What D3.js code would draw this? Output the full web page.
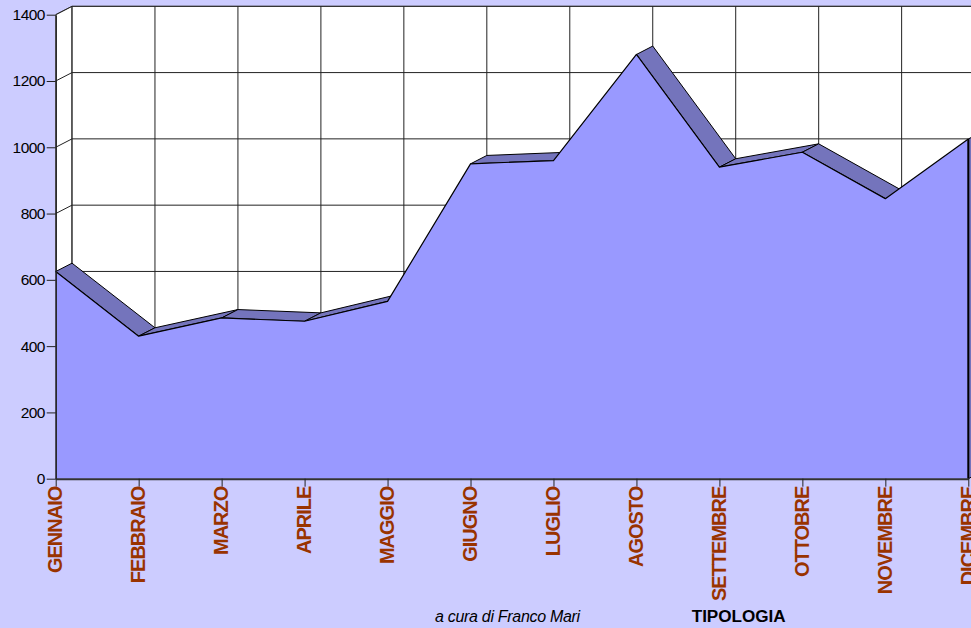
<!DOCTYPE html>
<html>
<head>
<meta charset="utf-8">
<script src="https://cdn.jsdelivr.net/npm/d3@7"></script>
<style>
  html, body { margin: 0; padding: 0; background: #ccccff; }
  svg { display: block; }
</style>
</head>
<body>
<svg id="chart" width="971" height="628"></svg>
<script>
// Monthly totals (area series)
const months = ["GENNAIO", "FEBBRAIO", "MARZO", "APRILE", "MAGGIO", "GIUGNO",
                "LUGLIO", "AGOSTO", "SETTEMBRE", "OTTOBRE", "NOVEMBRE", "DICEMBRE"];
const values = [625, 430, 485, 475, 535, 950, 960, 1280, 940, 985, 845, 1025];
const yTicks = [0, 200, 400, 600, 800, 1000, 1200, 1400];

const W = 971, H = 628;
const svg = d3.select("#chart");

const x = d3.scalePoint().domain(months).range([55.7, 968.3]);
const y = d3.scaleLinear().domain([0, 1400]).range([478.7, 14.7]);

// oblique depth of the 3D box
const DX = 16.3, DY = -8.4;
const x0 = x(months[0]), x1 = x(months[months.length - 1]);
const yTop = y(1400), yBot = y(0);

const wall = svg.append("g");

// left wall
wall.append("polygon")
  .attr("points", [[x0, yTop], [x0 + DX, yTop + DY], [x0 + DX, yBot + DY], [x0, yBot]].join(" "))
  .attr("fill", "#ffffff").attr("stroke", "#666").attr("stroke-width", 1);

// back wall
wall.append("rect")
  .attr("x", x0 + DX).attr("y", yTop + DY)
  .attr("width", x1 - x0).attr("height", yBot - yTop)
  .attr("fill", "#ffffff").attr("stroke", "#666").attr("stroke-width", 1);

// horizontal gridlines on back wall + slanted ones on left wall
const grid = svg.append("g").attr("stroke", "#222").attr("stroke-width", 1).attr("fill", "none");
yTicks.forEach(v => {
  grid.append("line")
    .attr("x1", x0 + DX).attr("x2", x1 + DX)
    .attr("y1", y(v) + DY).attr("y2", y(v) + DY);
  grid.append("line")
    .attr("x1", x0).attr("x2", x0 + DX)
    .attr("y1", y(v)).attr("y2", y(v) + DY);
});
// vertical gridlines on back wall
months.forEach(m => {
  grid.append("line")
    .attr("x1", x(m) + DX).attr("x2", x(m) + DX)
    .attr("y1", yTop + DY).attr("y2", yBot + DY);
});

// top faces of the extruded area
const pts = months.map((m, i) => [x(m), y(values[i])]);
const faces = svg.append("g");
for (let i = 0; i < pts.length - 1; i++) {
  const [ax, ay] = pts[i], [bx, by] = pts[i + 1];
  const cross = (bx - ax) * DY - (by - ay) * DX;
  if (cross >= 0) continue; // face turned away from the viewer
  faces.append("polygon")
    .attr("points", [[ax, ay], [bx, by], [bx + DX, by + DY], [ax + DX, ay + DY]].join(" "))
    .attr("fill", "#7474bc").attr("stroke", "#000").attr("stroke-width", 1)
    .attr("stroke-linejoin", "round");
}
// right end face
{
  const [ex, ey] = pts[pts.length - 1];
  faces.append("polygon")
    .attr("points", [[ex, ey], [ex + DX, ey + DY], [ex + DX, yBot + DY], [ex, yBot]].join(" "))
    .attr("fill", "#7474bc").attr("stroke", "#000").attr("stroke-width", 1);
}

// front face of the area
const area = d3.area()
  .x((d, i) => x(months[i]))
  .y0(yBot)
  .y1(d => y(d));
svg.append("path")
  .datum(values)
  .attr("d", area)
  .attr("fill", "#9999ff");

const line = d3.line()
  .x((d, i) => x(months[i]))
  .y(d => y(d));
svg.append("path")
  .datum(values)
  .attr("d", line)
  .attr("fill", "none").attr("stroke", "#000").attr("stroke-width", 1.2)
  .attr("stroke-linejoin", "round");

// right edge of the front face
svg.append("line")
  .attr("x1", x1).attr("x2", x1)
  .attr("y1", y(values[values.length - 1])).attr("y2", yBot)
  .attr("stroke", "#000").attr("stroke-width", 2);

// y axis
const yAxis = svg.append("g")
  .attr("transform", `translate(${x0},0)`)
  .call(d3.axisLeft(y).tickValues(yTicks).tickFormat(d3.format("d")).tickSize(9).tickSizeOuter(0));
yAxis.select(".domain").attr("stroke", "#222").attr("stroke-width", 1.5);
yAxis.selectAll(".tick line").attr("stroke", "#222");
yAxis.selectAll("text")
  .attr("fill", "#000")
  .attr("x", -11)
  .style("font-family", "'Liberation Sans', Arial, sans-serif")
  .style("font-size", "15.5px")
  .style("letter-spacing", "-0.6px");

// x axis
const xAxis = svg.append("g")
  .attr("transform", `translate(0,${yBot})`)
  .call(d3.axisBottom(x).tickSize(8).tickSizeOuter(0));
xAxis.select(".domain").attr("stroke", "#333").attr("stroke-width", 2);
xAxis.selectAll(".tick line").attr("stroke", "#222");
xAxis.selectAll("text")
  .attr("transform", "rotate(-90)")
  .attr("x", -8).attr("y", 0).attr("dy", "0.3em")
  .style("text-anchor", "end")
  .attr("fill", "#993300")
  .style("font-family", "'Liberation Sans', Arial, sans-serif")
  .style("font-weight", "bold")
  .style("font-size", "20px")
  .style("letter-spacing", "-1px");

// footer
svg.append("text")
  .attr("x", 435).attr("y", 621.7)
  .style("font-family", "'Liberation Sans', Arial, sans-serif")
  .style("font-style", "italic")
  .style("font-size", "16px")
  .style("letter-spacing", "-0.3px")
  .attr("fill", "#000")
  .text("a cura di Franco Mari");

svg.append("text")
  .attr("x", 691.7).attr("y", 621.7)
  .attr("textLength", 94).attr("lengthAdjust", "spacingAndGlyphs")
  .style("font-family", "'Liberation Sans', Arial, sans-serif")
  .style("font-weight", "bold")
  .style("font-size", "16px")
  .attr("fill", "#000")
  .text("TIPOLOGIA");
</script>
</body>
</html>
